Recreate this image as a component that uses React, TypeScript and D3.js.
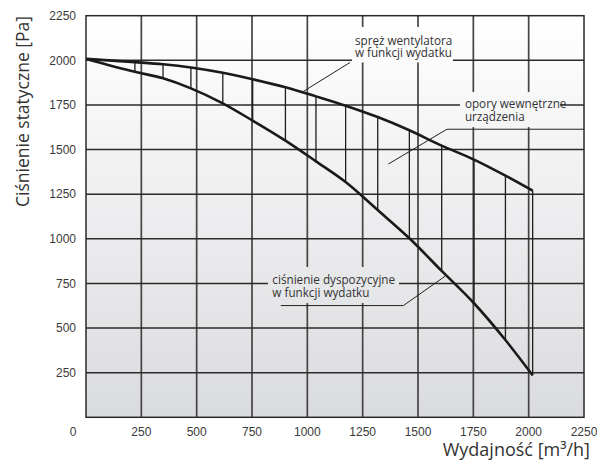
import React from "react";
import * as d3 from "d3";

// ---- data ----
const flows = [0, 221, 348, 474, 618, 753, 901, 1039, 1173, 1318, 1461, 1607, 1753, 1895, 2018];
const fanPressure = [2008, 1990, 1978, 1960, 1930, 1894, 1849, 1798, 1746, 1682, 1608, 1522, 1444, 1354, 1270];
const availablePressure = [2008, 1936, 1899, 1843, 1759, 1662, 1550, 1434, 1318, 1161, 1003, 820, 639, 433, 235];
const xTicks = [250, 500, 750, 1000, 1250, 1500, 1750, 2000, 2250];
const yTicks = [250, 500, 750, 1000, 1250, 1500, 1750, 2000, 2250];
const gridValues = [250, 500, 750, 1000, 1250, 1500, 1750, 2000];

const labelFan = ["spręż wentylatora", "w funkcji wydatku"];
const labelLoss = ["opory wewnętrzne", "urządzenia"];
const labelAvail = ["ciśnienie dyspozycyjne", "w funkcji wydatku"];
const yTitle = "Ciśnienie statyczne [Pa]";
const xTitle = "Wydajność [m³/h]";

const W = 597;
const H = 468;
const M = { left: 86, right: 13, top: 15.7, bottom: 50.7 };

export default function App() {
  const x = d3.scaleLinear().domain([0, 2250]).range([M.left, W - M.right]);
  const y = d3.scaleLinear().domain([0, 2250]).range([H - M.bottom, M.top]);

  const fanPts: [number, number][] = flows.map((f, i) => [f, fanPressure[i]]);
  const availPts: [number, number][] = flows.map((f, i) => [f, availablePressure[i]]);
  const line = d3
    .line<[number, number]>()
    .x((d) => x(d[0]))
    .y((d) => y(d[1]))
    .curve(d3.curveMonotoneX);

  const annoFont = "'Open Sans', sans-serif";
  const tickFont = "'Liberation Sans', Arial, sans-serif";

  // annotation boxes in data units
  const box1 = { x0: 1202, x1: 1658, yTop: 2187, yBot: 1988 };
  const box2 = { x0: 1690, x1: 2142, yTop: 1822, yBot: 1626 };
  const box3 = { x0: 822, x1: 1414, yTop: 842, yBot: 640 };

  const rectOf = (b: { x0: number; x1: number; yTop: number; yBot: number }, k: string) => (
    <rect
      key={k}
      x={x(b.x0)}
      y={y(b.yTop)}
      width={x(b.x1) - x(b.x0)}
      height={y(b.yBot) - y(b.yTop)}
      fill="url(#bg)"
    />
  );

  const label = (lines: string[], xv: number, yv: number, k: string) => (
    <text key={k} x={x(xv)} y={y(yv)} fontFamily={annoFont} fontSize={11.7} fill="#333">
      {lines.map((t, i) => (
        <tspan key={i} x={x(xv)} dy={i === 0 ? 0 : 12.4}>
          {t}
        </tspan>
      ))}
    </text>
  );

  const plotW = x(2250) - x(0);
  const plotH = y(0) - y(2250);

  return (
    <svg
      width={W}
      height={H}
      style={{ position: "absolute", left: 0, top: 0, background: "#ffffff" }}
    >
      <defs>
        <linearGradient id="bg" gradientUnits="userSpaceOnUse" x1={0} y1={y(2250)} x2={0} y2={y(0)}>
          <stop offset="0" stopColor="#ffffff" />
          <stop offset="1" stopColor="#dadbde" />
        </linearGradient>
      </defs>

      <rect x={x(0)} y={y(2250)} width={plotW} height={plotH} fill="url(#bg)" />

      {/* grid */}
      {gridValues.map((v) => (
        <line key={"gx" + v} x1={x(v)} x2={x(v)} y1={y(0)} y2={y(2250)} stroke="#444" strokeWidth={1.7} />
      ))}
      {gridValues.map((v) => (
        <line key={"gy" + v} x1={x(0)} x2={x(2250)} y1={y(v)} y2={y(v)} stroke="#2a2a2a" strokeWidth={1.4} />
      ))}

      {/* label background boxes hide grid */}
      {rectOf(box1, "b1")}
      {rectOf(box2, "b2")}
      {rectOf(box3, "b3")}

      {/* hatching between curves */}
      {flows.slice(1).map((f, i) => (
        <line
          key={"h" + f}
          x1={x(f)}
          x2={x(f)}
          y1={y(fanPressure[i + 1])}
          y2={y(availablePressure[i + 1])}
          stroke="#1e1e1e"
          strokeWidth={1.3}
        />
      ))}

      {/* curves */}
      <path d={line(fanPts) || ""} fill="none" stroke="#1a1a1a" strokeWidth={2.6} />
      <path d={line(availPts) || ""} fill="none" stroke="#1a1a1a" strokeWidth={2.6} />

      {/* plot frame */}
      <rect x={x(0)} y={y(2250)} width={plotW} height={plotH} fill="none" stroke="#2a2a2a" strokeWidth={1.5} />

      {/* annotation 1 */}
      <polyline points={`${x(976)},${y(1821)} ${x(1193)},${y(1988)}`} fill="none" stroke="#222" strokeWidth={1} />
      {label(labelFan, 1215, 2086, "l1")}

      {/* annotation 2 */}
      <polyline
        points={`${x(1366)},${y(1419)} ${x(1631)},${y(1614)} ${x(2250)},${y(1614)}`}
        fill="none"
        stroke="#222"
        strokeWidth={1}
      />
      {label(labelLoss, 1712, 1731, "l2")}

      {/* annotation 3 */}
      <polyline
        points={`${x(880)},${y(626)} ${x(1434)},${y(626)} ${x(1622)},${y(790)}`}
        fill="none"
        stroke="#222"
        strokeWidth={1}
      />
      {label(labelAvail, 842, 745, "l3")}

      {/* y tick labels */}
      {yTicks.map((v) => (
        <text key={"yt" + v} x={76} y={y(v)} dy="0.35em" textAnchor="end" fontFamily={tickFont} fontSize={12} fill="#3a3a3a">
          {v}
        </text>
      ))}
      {/* x tick labels */}
      <text x={73} y={436} textAnchor="middle" fontFamily={tickFont} fontSize={12} fill="#3a3a3a">
        0
      </text>
      {xTicks.map((v) => (
        <text key={"xt" + v} x={x(v)} y={436} textAnchor="middle" fontFamily={tickFont} fontSize={12} fill="#3a3a3a">
          {v}
        </text>
      ))}

      {/* axis titles */}
      <text
        transform={`translate(28.5, 111.5) rotate(-90)`}
        textAnchor="middle"
        fontFamily={annoFont}
        fontSize={17.5}
        fill="#333"
      >
        {yTitle}
      </text>
      <text x={590} y={456} textAnchor="end" fontFamily={annoFont} fontSize={18} fill="#333">
        {xTitle}
      </text>
    </svg>
  );
}
